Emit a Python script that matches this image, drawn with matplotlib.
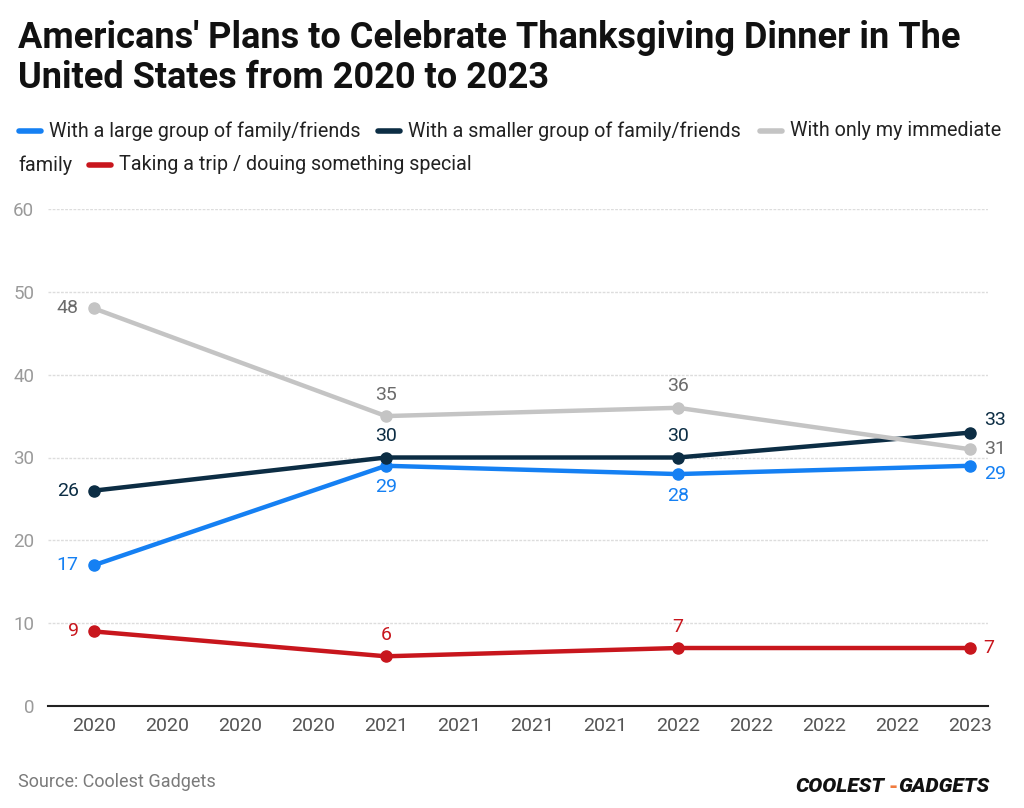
import numpy as np
import matplotlib.pyplot as plt
from matplotlib.lines import Line2D

plt.rcParams['font.family'] = ['Roboto', 'DejaVu Sans']

# Data
tick_labels = ["2020", "2020", "2020", "2020", "2021", "2021", "2021", "2021",
               "2022", "2022", "2022", "2022", "2023"]
pos = [0, 4, 8, 12]
large_group = [17, 29, 28, 29]
smaller_group = [26, 30, 30, 33]
immediate = [48, 35, 36, 31]
trip = [9, 6, 7, 7]

names = ["With a large group of family/friends",
         "With a smaller group of family/friends",
         "With only my immediate family",
         "Taking a trip / douing something special"]
colors = ["#1580f3", "#0c2d44", "#c4c4c4", "#c8161d"]
label_colors = ["#1580f3", "#0c2d44", "#6b6b6b", "#c8161d"]

fig = plt.figure(figsize=(10.24, 8.08), dpi=100)
ax = fig.add_axes([48/1024, 1-706/808, 940/1024, 497/808])

series = [large_group, smaller_group, immediate, trip]
mid_side = ["below", "above", "above", "above"]
# offset (points) of the last label, right of the point
last_dy = [-6, 9, 0, 0]
for s, c, lc, side, ldy in zip(series, colors, label_colors, mid_side, last_dy):
    ax.plot(pos, s, color=c, lw=3.2, marker="o", ms=8, zorder=3,
            solid_capstyle="round")
    for i, (x, y) in enumerate(zip(pos, s)):
        if i == 0:
            ax.annotate(str(y), (x, y), xytext=(-11, 0), textcoords="offset points",
                        ha="right", va="center", color=lc, fontsize=14)
        elif i == len(pos) - 1:
            ax.annotate(str(y), (x, y), xytext=(10, ldy), textcoords="offset points",
                        ha="left", va="center", color=lc, fontsize=14)
        else:
            dy = -9 if side == "below" else 9
            ax.annotate(str(y), (x, y), xytext=(0, dy), textcoords="offset points",
                        ha="center", va="top" if side == "below" else "bottom",
                        color=lc, fontsize=14)

ax.set_xlim(-0.63, 12.25)
ax.set_ylim(0, 60)
ax.set_xticks(range(len(tick_labels)))
ax.set_xticklabels(tick_labels)
ax.set_yticks([0, 10, 20, 30, 40, 50, 60])
ax.tick_params(axis="x", length=0, labelsize=14, labelcolor="#555555", pad=8)
ax.tick_params(axis="y", length=0, labelsize=13.5, labelcolor="#9a9a9a", pad=10)
ax.grid(axis="y", color="#dddddd", lw=1, ls=(0, (2, 1)))
ax.set_axisbelow(True)
for sp in ["top", "right", "left"]:
    ax.spines[sp].set_visible(False)
ax.spines["bottom"].set_color("#222222")
ax.spines["bottom"].set_linewidth(1.5)

# Title
fig.text(18/1024, 1-38/808, "Americans' Plans to Celebrate Thanksgiving Dinner in The",
         fontsize=26, fontweight="bold", va="center", ha="left", color="#111111")
fig.text(18/1024, 1-78/808, "United States from 2020 to 2023",
         fontsize=26, fontweight="bold", va="center", ha="left", color="#111111")

# Legend (wrapped manually like the original)
def legend_item(xh, y, text, color):
    fig.add_artist(Line2D([xh/1024, (xh+22)/1024], [1-y/808, 1-y/808],
                          color=color, lw=4, solid_capstyle="round"))
    fig.text((xh+30)/1024, 1-y/808, text, fontsize=14.2, va="center",
             ha="left", color="#222222")

legend_item(19, 131, names[0], colors[0])
legend_item(378, 131, names[1], colors[1])
legend_item(760, 131, "With only my immediate", colors[2])
fig.text(18/1024, 1-165/808, "family", fontsize=14.2, va="center", ha="left",
         color="#222222")
legend_item(89, 165, names[3], colors[3])

# Footer
fig.text(18/1024, 1-782/808, "Source: Coolest Gadgets", fontsize=13,
         color="#7a7a7a", va="center", ha="left")
fig.text(795/1024, 1-787/808, "COOLEST", fontsize=15, fontweight="heavy",
         style="italic", color="#111111", va="center", ha="left")
fig.text(888/1024, 1-787/808, "-", fontsize=15, fontweight="heavy",
         color="#f07b3f", va="center", ha="left")
fig.text(898/1024, 1-787/808, "GADGETS", fontsize=15, fontweight="heavy",
         style="italic", color="#111111", va="center", ha="left")

fig.savefig("out.png", dpi=100)
